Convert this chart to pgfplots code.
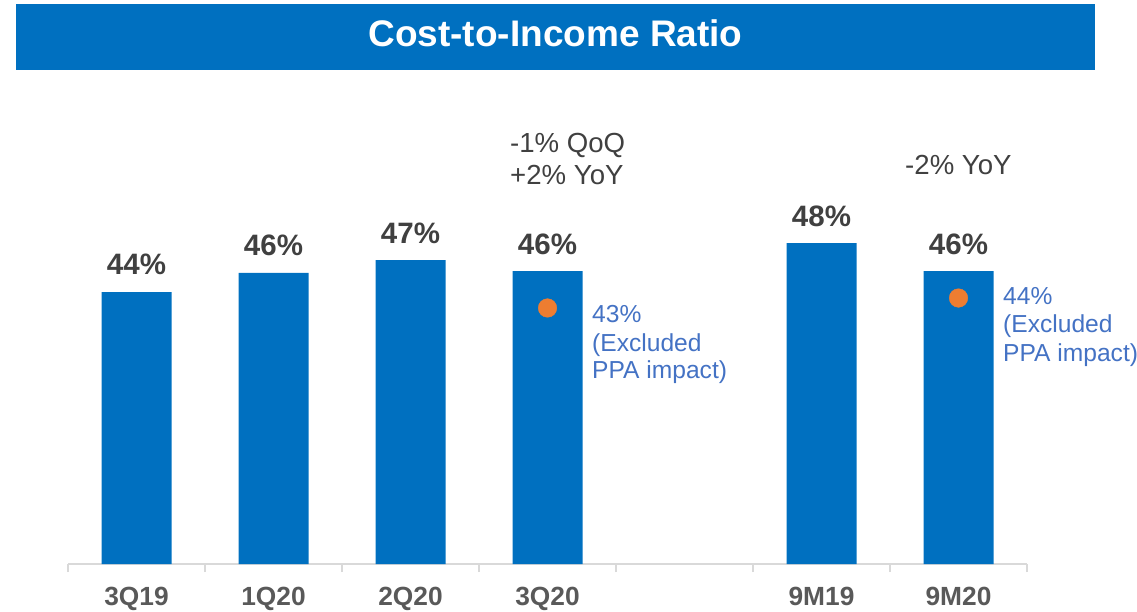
\documentclass[border=0pt]{standalone}
\usepackage{fontspec}
\setmainfont{Liberation Sans}
\usepackage{pgfplots}
\pgfplotsset{compat=1.18}
\definecolor{barblue}{RGB}{0,112,192}
\definecolor{dotorange}{RGB}{237,125,49}
\definecolor{txtgray}{RGB}{64,64,64}
\definecolor{tickgray}{RGB}{89,89,89}
\definecolor{axgray}{RGB}{217,217,217}
\definecolor{noteblue}{RGB}{68,114,196}
\begin{document}
\begin{tikzpicture}[x=1pt,y=1pt]
\fill[barblue] (16,541) rectangle (1095,607);
\node[anchor=base, text=white, inner sep=0pt, font=\fontsize{37}{40}\selectfont\bfseries] at (555.5,564) {Cost-to-Income Ratio};
\begin{axis}[
  at={(68pt,47pt)}, anchor=south west,
  scale only axis, width=959pt, height=340pt,
  xmin=-0.5, xmax=6.5, ymin=20, ymax=50,
  clip=false,
  axis y line=none,
  axis x line*=bottom,
  x axis line style={axgray, line width=1.5pt},
  xtick={0,1,2,3,5,6},
  xticklabels={3Q19,1Q20,2Q20,3Q20,9M19,9M20},
  minor xtick={-0.5,0.5,1.5,2.5,3.5,4.5,5.5,6.5},
  major tick length=0pt,
  minor tick length=8pt,
  xtick align=outside,
  tick style={axgray, line width=1.5pt},
  xticklabel style={font=\fontsize{26.3}{30}\selectfont\bfseries, text=tickgray, anchor=base, inner sep=0pt, yshift=-41pt},
]
\addplot[ybar, bar width=70pt, fill=barblue, draw=none,
  nodes near coords, point meta=explicit symbolic,
  every node near coord/.append style={anchor=base, inner sep=0pt, yshift=17pt, text=txtgray, font=\fontsize{29.5}{32}\selectfont\bfseries}]
  coordinates {(0,44)[44\%] (1,45.68)[46\%] (2,46.82)[47\%] (3,45.85)[46\%] (5,48.32)[48\%] (6,45.85)[46\%]};
\addplot[only marks, mark=*, mark size=9.3pt, color=dotorange, mark options={fill=dotorange, draw=dotorange}]
  coordinates {(3,42.59) (6,43.47)};
\end{axis}
\begin{scope}[every node/.style={anchor=base west, inner sep=0pt}]
\node[text=txtgray, font=\fontsize{27.6}{30}\selectfont] at (510,458) {-1\% QoQ};
\node[text=txtgray, font=\fontsize{27.6}{30}\selectfont] at (510,426) {+2\% YoY};
\node[text=txtgray, font=\fontsize{27.6}{30}\selectfont] at (905,436) {-2\% YoY};
\node[text=noteblue, font=\fontsize{24.6}{27}\selectfont] at (592,288) {43\%};
\node[text=noteblue, font=\fontsize{24.6}{27}\selectfont] at (592,260) {(Excluded};
\node[text=noteblue, font=\fontsize{24.6}{27}\selectfont] at (592,233) {PPA impact)};
\node[text=noteblue, font=\fontsize{24.6}{27}\selectfont] at (1003,306) {44\%};
\node[text=noteblue, font=\fontsize{24.6}{27}\selectfont] at (1003,278) {(Excluded};
\node[text=noteblue, font=\fontsize{24.6}{27}\selectfont] at (1003,250) {PPA impact)};
\end{scope}
\pgfresetboundingbox
\path[use as bounding box] (0,0) rectangle (1137,611);
\end{tikzpicture}
\end{document}
